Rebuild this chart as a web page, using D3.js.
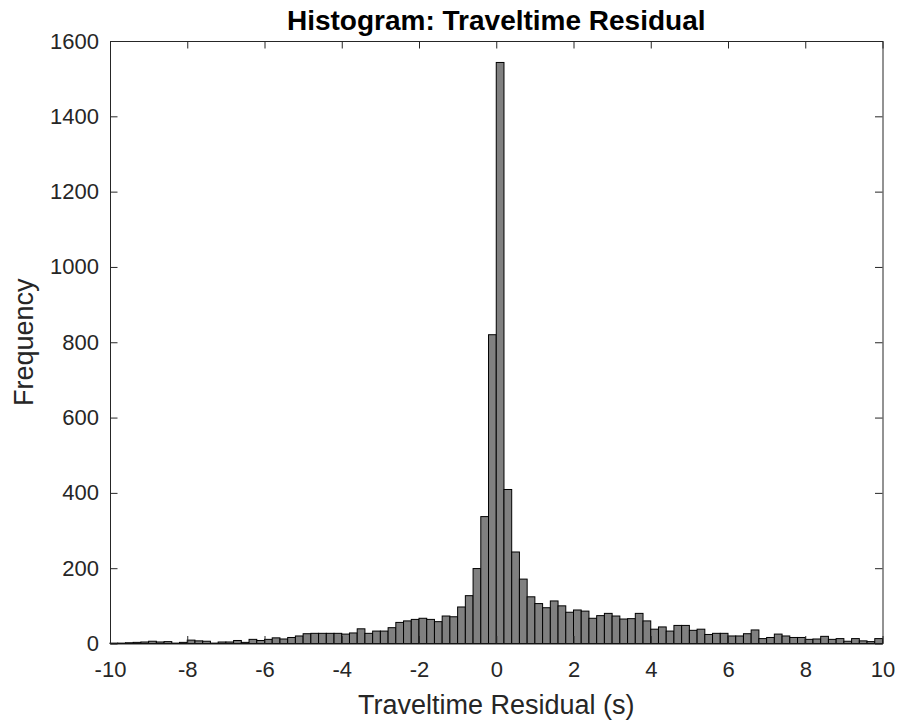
<!DOCTYPE html>
<html>
<head>
<meta charset="utf-8">
<script src="https://cdn.jsdelivr.net/npm/d3@7"></script>
<style>
  html, body { margin: 0; padding: 0; background: #fff; }
  svg { display: block; font-family: "Liberation Sans", Arial, Helvetica, sans-serif; }
</style>
</head>
<body>
<div id="chart"></div>
<script>
// histogram settings: 100 bins of 0.2 s from -10 to 10
const xDomain = [-10, 10];
const binWidth = 0.2;
const yDomain = [0, 1600];

// counts per bin, left to right
const counts = [
  1, 1, 2, 3, 4, 6, 4, 5, 1, 3,
  9, 7, 6, 1, 4, 4, 8, 3, 11, 8,
  11, 15, 12, 16, 20, 26, 27, 27, 27, 27,
  25, 28, 39, 27, 33, 33, 42, 56, 60, 64,
  67, 64, 58, 73, 71, 97, 127, 199, 337, 820,
  1543, 409, 243, 171, 124, 106, 95, 113, 100, 83,
  89, 86, 67, 74, 80, 73, 65, 66, 80, 60,
  38, 44, 33, 48, 48, 35, 38, 24, 27, 27,
  20, 20, 26, 36, 13, 16, 25, 20, 16, 16,
  11, 12, 19, 11, 13, 6, 13, 7, 5, 13
];

const xTicks = [-10, -8, -6, -4, -2, 0, 2, 4, 6, 8, 10];
const yTicks = [0, 200, 400, 600, 800, 1000, 1200, 1400, 1600];

const titleText = "Histogram: Traveltime Residual";
const xLabelText = "Traveltime Residual (s)";
const yLabelText = "Frequency";

const width = 899, height = 721;
const margin = { top: 41, right: 16.5, bottom: 77.5, left: 110 };
const innerW = width - margin.left - margin.right;
const innerH = height - margin.top - margin.bottom;
const axisColor = "#262626";
const tickLen = 7.5;

const svg = d3.select("#chart").append("svg")
  .attr("width", width)
  .attr("height", height);

svg.append("rect")
  .attr("width", width)
  .attr("height", height)
  .attr("fill", "#fff");

const g = svg.append("g")
  .attr("transform", `translate(${margin.left},${margin.top})`);

const x = d3.scaleLinear().domain(xDomain).range([0, innerW]);
const y = d3.scaleLinear().domain(yDomain).range([innerH, 0]);

const bins = counts.map((c, i) => ({
  x0: xDomain[0] + i * binWidth,
  x1: xDomain[0] + (i + 1) * binWidth,
  count: c
}));

// bars
g.append("g")
  .selectAll("rect")
  .data(bins)
  .join("rect")
  .attr("x", d => x(d.x0))
  .attr("y", d => y(d.count))
  .attr("width", d => x(d.x1) - x(d.x0))
  .attr("height", d => y(0) - y(d.count))
  .attr("fill", "#808080")
  .attr("stroke", "#000")
  .attr("stroke-width", 1);

// axes, ticks pointing inward, box on all four sides
const fmt = d => String(d);

const xAxis = g.append("g")
  .attr("transform", `translate(0,${innerH})`)
  .call(d3.axisBottom(x).tickValues(xTicks).tickFormat(fmt)
    .tickSizeInner(-tickLen).tickSizeOuter(0).tickPadding(18));

const yAxis = g.append("g")
  .call(d3.axisLeft(y).tickValues(yTicks).tickFormat(fmt)
    .tickSizeInner(-tickLen).tickSizeOuter(0).tickPadding(11));

const topAxis = g.append("g")
  .call(d3.axisTop(x).tickValues(xTicks).tickFormat("")
    .tickSizeInner(-tickLen).tickSizeOuter(0));

const rightAxis = g.append("g")
  .attr("transform", `translate(${innerW},0)`)
  .call(d3.axisRight(y).tickValues(yTicks).tickFormat("")
    .tickSizeInner(-tickLen).tickSizeOuter(0));

[xAxis, yAxis, topAxis, rightAxis].forEach(a => {
  a.select(".domain").attr("stroke", axisColor).attr("stroke-width", 1);
  a.selectAll(".tick line").attr("stroke", axisColor).attr("stroke-width", 1);
  a.selectAll(".tick text")
    .attr("fill", axisColor)
    .style("font-size", "22px")
    .style("font-family", "'Liberation Sans', Arial, sans-serif");
});

// title and labels
svg.append("text")
  .attr("x", margin.left + innerW / 2)
  .attr("y", 30)
  .attr("text-anchor", "middle")
  .style("font-size", "28px")
  .style("font-weight", "bold")
  .attr("fill", "#000")
  .text(titleText);

svg.append("text")
  .attr("x", margin.left + innerW / 2)
  .attr("y", 714)
  .attr("text-anchor", "middle")
  .style("font-size", "27px")
  .attr("fill", axisColor)
  .text(xLabelText);

svg.append("text")
  .attr("transform", `translate(33,${margin.top + innerH / 2}) rotate(-90)`)
  .attr("text-anchor", "middle")
  .style("font-size", "27px")
  .attr("fill", axisColor)
  .text(yLabelText);
</script>
</body>
</html>
